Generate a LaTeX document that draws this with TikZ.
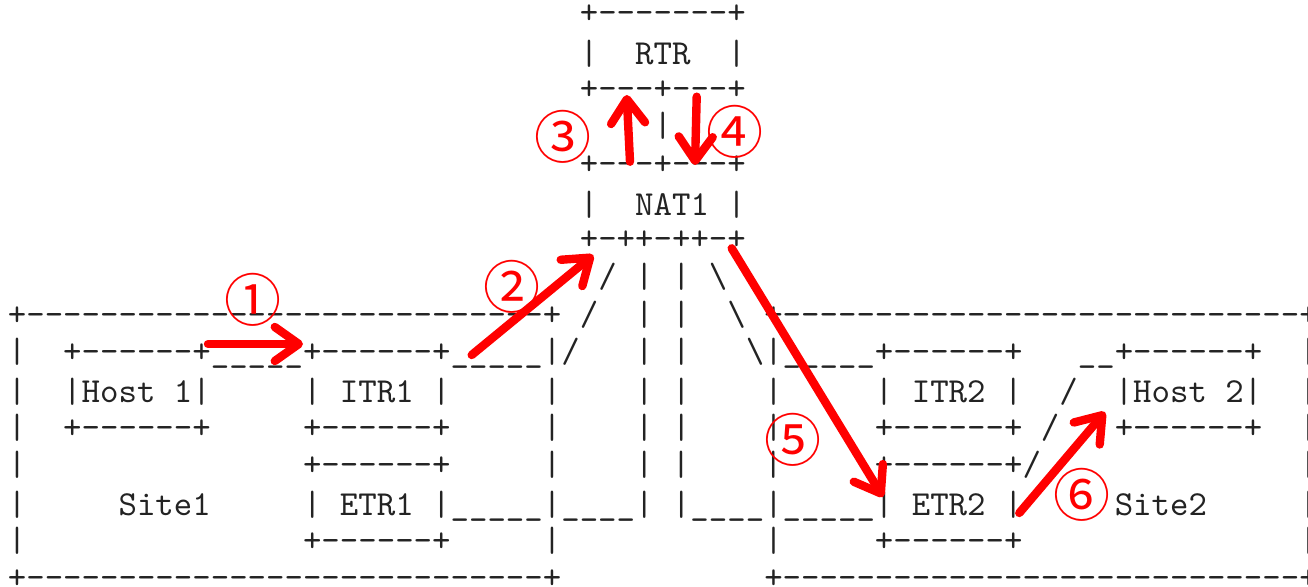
\documentclass[tikz,border=0pt]{standalone}
\usepackage{fontspec}
\newfontfamily\asciifont{lmmono10-regular.otf}[Ligatures=TeXOff]
\newfontfamily\circfont{Noto Sans CJK SC}
\usetikzlibrary{arrows.meta}
\definecolor{cred}{RGB}{255,0,0}
\definecolor{cink}{RGB}{35,35,35}

\begin{document}
\begin{tikzpicture}[x=0.5pt, y=-0.5pt,
    ascii/.style={anchor=base west, inner sep=0pt, text=cink,
                  font=\asciifont\fontsize{17.57pt}{21pt}\selectfont},
    num/.style={inner sep=0pt, text=cred, font=\circfont\fontsize{28.5pt}{28.5pt}\selectfont},
    flow/.style={-{Straight Barb[length=12pt, width=17pt, line cap=round, line join=round]},
                 line width=4.2pt, color=cred, line cap=round},
  ]
  \useasboundingbox (0,0) rectangle (1308,587);

  % RTR and NAT1
  \node[ascii] (l0) at (579.43,24) {+-------+};
  \node[ascii] (l1) at (579.43,64.65) {|~~RTR~~|};
  \node[ascii] (l2) at (579.43,99.3) {+---+---+};
  \node[ascii] (l3) at (579.43,136.95) {~~~~|};
  \node[ascii] (l4) at (579.43,174.6) {+---+---+};
  \node[ascii] (l5) at (579.43,215.25) {|~~NAT1~|};
  \node[ascii] (l6) at (579.43,249.9) {+-++-++-+};
  \node[ascii] (l7) at (579.43,287.55) {~/~|~|~\textbackslash};

  % Site1 and Site2
  \node[ascii] (l8) at (7.475,325.2)
    {+----------------------------+~/~~|~|~~\textbackslash~+----------------------------+};
  \node[ascii] (l9) at (7.475,362.85)
    {|~~+------+\_\_\_\_\_+------+\_\_\_\_\_|/~~~|~|~~~\textbackslash|\_\_\_\_\_+------+~~~\_\_+------+~~|};
  \node[ascii] (l10) at (7.475,403)
    {|~~|Host~1|~~~~~|~ITR1~|~~~~~|~~~~|~|~~~~|~~~~~|~ITR2~|~~/~~|Host~2|~~|};
  \node[ascii] (l11) at (7.475,438.15)
    {|~~+------+~~~~~+------+~~~~~|~~~~|~|~~~~|~~~~~+------+~/~~~+------+~~|};
  \node[ascii] (l12) at (7.475,475.8)
    {|~~~~~~~~~~~~~~~+------+~~~~~|~~~~|~|~~~~|~~~~~+------+/~~~~~~~~~~~~~~|};
  \node[ascii] (l13) at (7.475,516)
    {|~~~~~Site1~~~~~|~ETR1~|\_\_\_\_\_|\_\_\_\_|~|\_\_\_\_|\_\_\_\_\_|~ETR2~|~~~~~Site2~~~~~|};
  \node[ascii] (l14) at (7.475,551.1)
    {|~~~~~~~~~~~~~~~+------+~~~~~|~~~~~~~~~~~|~~~~~+------+~~~~~~~~~~~~~~~|};
  \node[ascii] (l15) at (7.475,588.75)
    {+----------------------------+~~~~~~~~~~~+----------------------------+};

  % Steps
  \node[num] (c1) at (253,300) {①};
  \node[num] (c2) at (511.7,286.7) {②};
  \node[num] (c3) at (563.3,136.7) {③};
  \node[num] (c4) at (735,131.7) {④};
  \node[num] (c5) at (793.3,440.3) {⑤};
  \node[num] (c6) at (1081.7,495.3) {⑥};

  \coordinate (p1a) at (208,344);
  \coordinate (p1b) at (303,344);
  \coordinate (p2a) at (471.7,355);
  \coordinate (p2b) at (593.3,255);
  \coordinate (p3a) at (630,161.7);
  \coordinate (p3b) at (626.7,95);
  \coordinate (p4a) at (696.7,96.7);
  \coordinate (p4b) at (695,165);
  \coordinate (p5a) at (731.7,248.3);
  \coordinate (p5b) at (883,497);
  \coordinate (p6a) at (1019.3,513);
  \coordinate (p6b) at (1105,412);

  \draw[flow] (p1a) -- (p1b);
  \draw[flow] (p2a) -- (p2b);
  \draw[flow] (p3a) -- (p3b);
  \draw[flow] (p4a) -- (p4b);
  \draw[flow] (p5a) -- (p5b);
  \draw[flow] (p6a) -- (p6b);
\end{tikzpicture}
\end{document}
